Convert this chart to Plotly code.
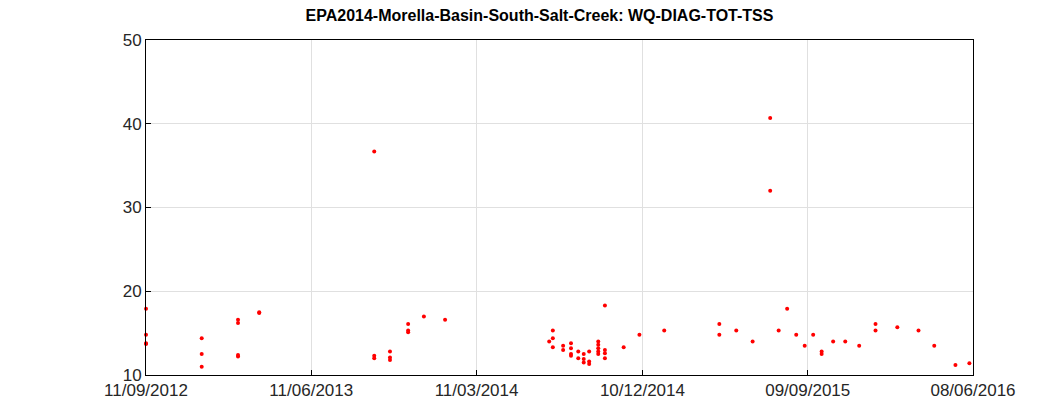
import plotly.graph_objects as go

dates = [
    "2012-09-11", "2012-09-11", "2012-09-11", "2012-09-11",
    "2012-12-12", "2012-12-12", "2012-12-12",
    "2013-02-10", "2013-02-10", "2013-02-10", "2013-02-10",
    "2013-03-17", "2013-03-17",
    "2013-09-23", "2013-09-23", "2013-09-23",
    "2013-10-19", "2013-10-19", "2013-10-19",
    "2013-11-18", "2013-11-18", "2013-11-18",
    "2013-12-14", "2014-01-18",
    "2014-07-09",
    "2014-07-15", "2014-07-15", "2014-07-15",
    "2014-08-01", "2014-08-01",
    "2014-08-14", "2014-08-14", "2014-08-14", "2014-08-14",
    "2014-08-26", "2014-08-26",
    "2014-09-04", "2014-09-04", "2014-09-04",
    "2014-09-13", "2014-09-13", "2014-09-13",
    "2014-09-28", "2014-09-28", "2014-09-28", "2014-09-28", "2014-09-28",
    "2014-10-09", "2014-10-09", "2014-10-09", "2014-10-09",
    "2014-11-09", "2014-12-05", "2015-01-15",
    "2015-04-16", "2015-04-16",
    "2015-05-14", "2015-06-10",
    "2015-07-09", "2015-07-09",
    "2015-07-23", "2015-08-06", "2015-08-21", "2015-09-04", "2015-09-18",
    "2015-10-02", "2015-10-02",
    "2015-10-21", "2015-11-10", "2015-12-03",
    "2015-12-30", "2015-12-30",
    "2016-02-04", "2016-03-10", "2016-04-05", "2016-05-10", "2016-06-02",
]
values = [
    17.9, 14.8, 13.8, 13.7,
    14.4, 12.5, 11.0,
    16.6, 16.2, 12.4, 12.2,
    17.5, 17.4,
    36.7, 12.3, 12.0,
    12.8, 12.1, 11.8,
    16.1, 15.3, 15.1,
    17.0, 16.6,
    14.0,
    15.3, 14.4, 13.3,
    13.5, 13.0,
    13.8, 13.2, 12.5, 12.3,
    12.8, 12.0,
    12.5, 11.9, 11.5,
    12.8, 11.6, 11.3,
    14.0, 13.6, 13.2, 12.8, 12.5,
    18.3, 13.0, 12.6, 12.0,
    13.3, 14.8, 15.3,
    16.1, 14.8,
    15.3, 14.0,
    40.7, 32.0,
    15.3, 17.9, 14.8, 13.5, 14.8,
    12.8, 12.5,
    14.0, 14.0, 13.5,
    16.1, 15.3,
    15.7, 15.3, 13.5, 11.2, 11.4,
]
tick_dates = ["2012-09-11", "2013-06-11", "2014-03-11", "2014-12-10", "2015-09-09", "2016-06-08"]
tick_labels = ["11/09/2012", "11/06/2013", "11/03/2014", "10/12/2014", "09/09/2015", "08/06/2016"]

fig = go.Figure(go.Scatter(x=dates, y=values, mode="markers", cliponaxis=False,
                           marker=dict(color="red", size=4)))

axis = dict(showline=True, linecolor="black", linewidth=1, mirror=True,
            showgrid=True, gridcolor="#e0e0e0", zeroline=False, automargin=False,
            ticks="inside", ticklen=5, tickcolor="black",
            tickfont=dict(family="Arial, Liberation Sans", size=17, color="#262626"))

fig.update_layout(
    width=1063, height=413,
    margin=dict(l=138, r=98, t=32, b=46),
    paper_bgcolor="white", plot_bgcolor="white",
    showlegend=False,
    title=dict(text="<b>EPA2014-Morella-Basin-South-Salt-Creek: WQ-DIAG-TOT-TSS</b>",
               x=0.5, xanchor="center", y=0.995, yanchor="top",
               font=dict(family="Arial, Liberation Sans", size=16, color="black")),
    xaxis=dict(axis, range=["2012-09-11", "2016-06-08"],
               tickvals=tick_dates, ticktext=tick_labels),
    yaxis=dict(axis, range=[10, 50], tickvals=[10, 20, 30, 40, 50]),
)

fig.write_html("out.html")
